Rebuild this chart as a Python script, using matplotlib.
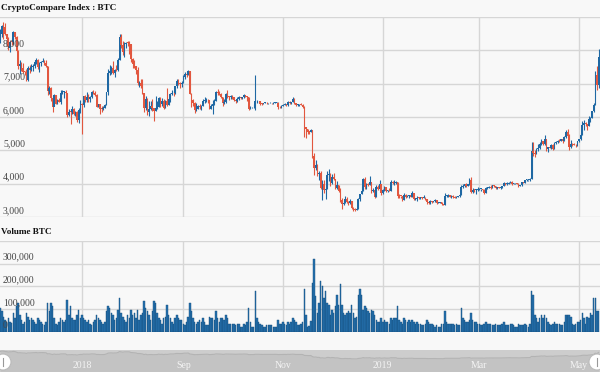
import numpy as np
import pandas as pd
import matplotlib
matplotlib.use("Agg")
import matplotlib.pyplot as plt
from matplotlib import transforms
from matplotlib.patches import Ellipse

# Daily BTC candles (first candle = 2018-05-12)
start_date = "2018-05-12"
first_open = 8450

close = [
    8500, 8720, 8690, 8480, 8350, 8060, 8250, 8240, 8540, 8410, 7990, 7520, 7590, 7470, 7360, 7350, 7110, 7470, 7400, 7500,
    7540, 7640, 7720, 7500, 7630, 7660, 7690, 7620, 7530, 6770, 6880, 6560, 6310, 6650, 6400, 6500, 6450, 6720, 6750, 6760, 6720, 6060, 6160, 6150, 6250, 6100, 6150, 5900, 6200, 6390,
    6360, 6620, 6520, 6600, 6530, 6600, 6760, 6710, 6660, 6310, 6390, 6250, 6240, 6270, 6360, 6740, 7320, 7380, 7470, 7330, 7410, 7400, 7720, 8400, 8170, 7940, 8190, 8230, 8210, 8180, 7730,
    7600, 7540, 7420, 7010, 7030, 6940, 6720, 6280, 6540, 6150, 6240, 6320, 6260, 6190, 6270, 6310, 6580, 6390, 6490, 6270, 6480, 6370, 6530, 6700, 6720, 6710, 6920, 7080, 7030, 6990, 7030,
    7200, 7300, 7270, 7370, 6700, 6520, 6410, 6200, 6250, 6330, 6300, 6330, 6490, 6490, 6520, 6500, 6250, 6340, 6390, 6490, 6760, 6720, 6700, 6590, 6430, 6460, 6680, 6630, 6600, 6630,
    6590, 6500, 6480, 6550, 6590, 6560, 6590, 6660, 6640, 6590, 6250, 6290, 6290, 6290, 6470, 6480, 6470, 6400, 6390, 6420, 6420, 6410, 6410, 6420, 6410, 6420, 6430, 6430, 6300, 6290, 6340,
    6370, 6390, 6350, 6460, 6410, 6450, 6550, 6420, 6350, 6380, 6390, 6370, 6310, 5690, 5640, 5560, 5550, 5610, 4830, 4480, 4560, 4290, 4330, 3880, 4000, 3800, 3840, 4260, 4280, 4020,
    4200, 4130, 3880, 3960, 3780, 3500, 3400, 3420, 3550, 3450, 3410, 3490, 3270, 3240, 3200, 3230, 3550, 3680, 3770, 4150, 3900, 4000, 3970, 4060, 3780, 3820, 3610, 3900, 3830, 3990, 3710,
    3810, 3900, 3780, 3810, 3790, 4060, 4010, 4010, 4040, 3640, 3630, 3620, 3510, 3670, 3590, 3620, 3660, 3610, 3710, 3540, 3540, 3580, 3560, 3590, 3580, 3580, 3540, 3440, 3410, 3470, 3450,
    3470, 3510, 3420, 3430, 3440, 3390, 3370, 3640, 3640, 3670, 3610, 3620, 3600, 3580, 3590, 3620, 3660, 3900, 3920, 3980, 3940, 3990, 4120, 3740, 3820, 3800, 3810, 3820,
    3830, 3830, 3810, 3720, 3870, 3880, 3890, 3870, 3950, 3930, 3870, 3890, 3870, 3880, 3920, 4020, 3990, 3990, 4030, 4060, 3990, 4010, 4020, 4000, 3930, 3950, 4050, 4030, 4110, 4110, 4110,
    4150, 4980, 4930, 4900, 5030, 5060, 5200, 5280, 5190, 5330, 5030, 5090, 5080, 5160, 5040, 5220, 5240, 5290, 5280, 5330, 5290, 5390, 5560, 5420, 5100, 5200, 5180, 5170, 5150, 5270,
    5330, 5470, 5760, 5830, 5800, 5730, 5940, 5980, 6170, 6360, 7250, 6970, 7810,
]

high = [
    8640, 8750, 8850, 8820, 8490, 8400, 8270, 8380, 8580, 8560, 8420, 8020, 7720, 7650, 7610, 7390, 7450, 7530, 7560, 7600,
    7600, 7700, 7760, 7750, 7660, 7690, 7760, 7700, 7700, 7540, 6920, 6900, 6620, 6690, 6660, 6550, 6560, 6800, 6820, 6790, 6800, 6730, 6240, 6230, 6330, 6280, 6180, 6170, 6270, 6510,
    6430, 6640, 6670, 6750, 6690, 6630, 6780, 6800, 6780, 6680, 6400, 6390, 6340, 6320, 6400, 6760, 7450, 7560, 7540, 7690, 7430, 7560, 7760, 8480, 8480, 8290, 8260, 8240, 8290, 8270, 8180,
    7760, 7720, 7540, 7500, 7080, 7150, 7150, 6730, 6620, 6560, 6480, 6470, 6550, 6260, 6620, 6480, 6600, 6600, 6560, 6530, 6500, 6880, 6560, 6720, 6800, 6780, 6940, 7130, 7140, 7060, 7080,
    7260, 7340, 7340, 7400, 7390, 6710, 6530, 6460, 6420, 6360, 6400, 6350, 6540, 6600, 6560, 6530, 6520, 6400, 6520, 6530, 6780, 6830, 6780, 6720, 6590, 6550, 6710, 6800, 6630, 6670,
    6650, 6600, 6510, 6600, 6620, 6600, 6610, 6700, 6670, 6640, 6600, 6330, 6310, 6400, 7250, 6520, 6490, 6490, 6420, 6430, 6460, 6440, 6420, 6460, 6420, 6440, 6440, 6450, 6440, 6320, 6350,
    6380, 6410, 6400, 6490, 6470, 6460, 6590, 6560, 6430, 6390, 6400, 6410, 6380, 6320, 5710, 5650, 5570, 5650, 5620, 4920, 4720, 4580, 4390, 4380, 4110, 4120, 3860, 4370, 4440, 4320,
    4300, 4310, 4140, 4070, 3970, 3880, 3570, 3480, 3620, 3600, 3470, 3530, 3490, 3290, 3260, 3270, 3580, 3690, 3930, 4180, 4200, 4010, 4030, 4240, 4060, 3870, 3840, 3950, 3960, 4100, 3990,
    3840, 3920, 3900, 3820, 3870, 4100, 4080, 4110, 4070, 4050, 3680, 3640, 3620, 3710, 3690, 3670, 3670, 3670, 3780, 3720, 3570, 3620, 3610, 3610, 3590, 3670, 3590, 3540, 3440, 3500, 3490,
    3490, 3530, 3520, 3450, 3460, 3450, 3400, 3730, 3660, 3680, 3670, 3650, 3650, 3620, 3630, 3640, 3700, 3950, 4000, 3990, 4010, 4000, 4160, 4200, 3860, 3830, 3830, 3890,
    3860, 3840, 3840, 3830, 3890, 3900, 3920, 3950, 3970, 3950, 3940, 3900, 3890, 3920, 3940, 4060, 4020, 4050, 4040, 4080, 4080, 4020, 4030, 4030, 4010, 3960, 4060, 4060, 4120, 4140, 4120,
    4170, 5250, 5250, 5010, 5060, 5200, 5250, 5350, 5280, 5460, 5340, 5110, 5120, 5180, 5190, 5240, 5280, 5320, 5350, 5350, 5340, 5440, 5620, 5640, 5480, 5300, 5220, 5210, 5190, 5290,
    5350, 5510, 5880, 5900, 5850, 5800, 6040, 6000, 6190, 6420, 7380, 7540, 8050,
]

low = [
    8230, 8400, 8350, 8460, 8130, 8010, 7950, 8150, 8190, 8340, 7950, 7450, 7300, 7380, 7330, 7270, 7090, 7080, 7310, 7370,
    7380, 7480, 7600, 7450, 7360, 7530, 7640, 7560, 7500, 6650, 6700, 6470, 6140, 6320, 6390, 6380, 6440, 6400, 6700, 6580, 6700, 6000, 6040, 5780, 6080, 6070, 6030, 5850, 5830, 6130,
    5500, 6300, 6460, 6460, 6450, 6450, 6560, 6700, 6620, 6290, 6300, 6080, 6150, 6210, 6260, 6350, 6670, 7260, 7290, 7300, 7210, 7370, 7390, 7700, 8070, 7860, 7800, 8080, 8130, 7880, 7640,
    7480, 7470, 7300, 6960, 6900, 6860, 6690, 6140, 6220, 6050, 6030, 6200, 6170, 5880, 6190, 6240, 6300, 6300, 6340, 6250, 6270, 6320, 6350, 6460, 6660, 6620, 6690, 6860, 6960, 6880, 6910,
    7020, 7140, 7210, 7250, 6690, 6290, 6340, 6130, 6180, 6240, 6250, 6200, 6320, 6410, 6460, 6420, 6230, 6240, 6100, 6370, 6490, 6660, 6660, 6560, 6340, 6380, 6430, 6580, 6520, 6550,
    6550, 6480, 6420, 6460, 6520, 6540, 6530, 6580, 6610, 6470, 6200, 6230, 6270, 6270, 6220, 6430, 6430, 6370, 6370, 6380, 6410, 6390, 6380, 6410, 6390, 6390, 6410, 6420, 6240, 6270, 6280,
    6320, 6360, 6330, 6340, 6390, 6380, 6440, 6400, 6320, 6340, 6330, 6350, 6270, 5390, 5380, 5500, 5500, 5540, 4770, 4260, 4420, 4240, 4110, 3840, 3520, 3720, 3550, 3830, 4080, 3920,
    3980, 4100, 3830, 3840, 3760, 3450, 3250, 3360, 3410, 3420, 3370, 3390, 3250, 3190, 3180, 3200, 3230, 3480, 3690, 3770, 3850, 3830, 3930, 3970, 3720, 3740, 3580, 3590, 3820, 3820, 3660,
    3680, 3780, 3750, 3740, 3780, 3770, 3980, 3970, 3990, 3580, 3570, 3570, 3480, 3500, 3580, 3590, 3580, 3590, 3610, 3500, 3510, 3480, 3540, 3550, 3540, 3560, 3500, 3400, 3380, 3400, 3430,
    3440, 3460, 3400, 3410, 3420, 3360, 3360, 3360, 3610, 3610, 3600, 3580, 3580, 3560, 3570, 3590, 3600, 3650, 3880, 3890, 3900, 3930, 3960, 3720, 3730, 3760, 3690, 3780,
    3810, 3790, 3780, 3690, 3710, 3840, 3860, 3840, 3870, 3890, 3840, 3840, 3860, 3830, 3880, 3920, 3960, 3960, 3980, 4010, 3960, 3980, 4000, 3990, 3890, 3920, 3940, 4010, 4020, 4080, 4090,
    4090, 4140, 4820, 4790, 4900, 4980, 5050, 5170, 5160, 5170, 4990, 4960, 5060, 5050, 5000, 5030, 5200, 5230, 5240, 5270, 5230, 5270, 5380, 5400, 5000, 5060, 5140, 5150, 5110, 5140,
    5260, 5320, 5460, 5600, 5720, 5620, 5730, 5840, 5980, 6140, 6360, 6800, 6880,
]

# volume in thousands of BTC
volume_k = [
    104, 90, 67, 52, 45, 60, 45, 38, 82, 62, 112, 127, 75, 52, 37, 45, 82, 67, 52, 60,
    52, 45, 37, 60, 52, 45, 37, 30, 45, 127, 90, 127, 112, 60, 37, 30, 45, 60, 52, 45, 52, 142, 75, 112, 60, 52, 52, 75, 97, 60,
    75, 60, 52, 45, 52, 37, 30, 45, 52, 75, 60, 52, 45, 37, 45, 90, 112, 104, 82, 75, 52, 60, 97, 150, 82, 67, 52, 45, 75, 60, 97,
    75, 82, 60, 97, 52, 75, 82, 134, 104, 90, 75, 52, 90, 134, 127, 82, 60, 52, 37, 60, 67, 120, 75, 60, 45, 37, 60, 75, 60, 52, 52,
    37, 30, 45, 67, 127, 90, 60, 45, 37, 45, 52, 45, 60, 45, 30, 30, 67, 60, 60, 52, 90, 60, 45, 60, 60, 52, 75, 60, 37, 37,
    37, 37, 30, 37, 37, 22, 22, 37, 30, 45, 107, 45, 22, 22, 180, 60, 45, 37, 30, 22, 22, 30, 30, 30, 30, 22, 22, 22, 52, 37, 37,
    45, 37, 30, 45, 37, 45, 60, 52, 45, 30, 30, 37, 45, 187, 75, 24, 25, 50, 216, 320, 157, 83, 127, 224, 201, 150, 179, 127, 120, 75,
    98, 83, 113, 164, 120, 209, 120, 83, 75, 83, 90, 83, 120, 83, 60, 67, 164, 187, 164, 98, 113, 105, 90, 83, 98, 90, 75, 53, 45, 45, 60,
    45, 53, 45, 45, 37, 60, 53, 60, 60, 113, 53, 45, 37, 60, 53, 45, 53, 45, 53, 45, 37, 45, 37, 37, 30, 30, 37, 53, 45, 37, 37,
    30, 24, 30, 24, 24, 37, 37, 90, 45, 37, 37, 37, 37, 30, 37, 30, 30, 104, 60, 52, 45, 45, 52, 82, 52, 45, 45, 37,
    37, 30, 30, 37, 45, 37, 37, 37, 30, 30, 37, 30, 30, 30, 37, 45, 30, 30, 30, 37, 37, 30, 22, 22, 37, 30, 30, 30, 37, 30, 22,
    37, 179, 164, 75, 60, 45, 60, 75, 60, 75, 60, 45, 37, 30, 37, 45, 37, 37, 37, 30, 30, 45, 75, 75, 75, 67, 37, 30, 37, 45,
    45, 52, 82, 60, 37, 67, 60, 82, 75, 150, 150, 90, 90,
]

tick_dates = ["2018-07-01", "2018-09-01", "2018-11-01", "2019-01-01", "2019-03-01", "2019-05-01"]
tick_labels = ["2018", "Sep", "Nov", "2019", "Mar", "May"]
price_ticks = [3000, 4000, 5000, 6000, 7000, 8000, 9000]
volume_ticks = [0, 100000, 200000, 300000, 400000]

assert len(close) == len(high) == len(low) == len(volume_k), (len(close), len(high), len(low), len(volume_k))

# colours
BG = "#f8f8f8"
GRID = "#d6d6d6"
UP = "#1f68a3"
DOWN = "#e2573f"
TXT = "#444444"
FONT = "Liberation Serif"

c = np.array(close, dtype=float)
h = np.array(high, dtype=float)
l = np.array(low, dtype=float)
o = np.r_[first_open, c[:-1]]
v = np.array(volume_k, dtype=float) * 1000
x = np.arange(len(c))
t0 = pd.Timestamp(start_date)
tick_x = [(pd.Timestamp(d) - t0).days for d in tick_dates]

W, H = 600, 372
fig = plt.figure(figsize=(W / 100, H / 100), dpi=100, facecolor=BG)


def pane(top, bottom):
    ax = fig.add_axes([0, 1 - bottom / H, 1, (bottom - top) / H])
    ax.set_facecolor(BG)
    for s in ax.spines.values():
        s.set_visible(False)
    ax.set_xticks([])
    ax.set_yticks([])
    ax.set_xlim(-0.12, 366.85)
    return ax


ax_p = pane(17, 217)
ax_v = pane(240.7, 332)
ax_n = pane(350, 372)

# price candles
ax_p.set_ylim(3000, 9000)
for ax in (ax_p, ax_v):
    for tx in tick_x:
        ax.axvline(tx, color=GRID, lw=1, zorder=0)
for yv in price_ticks:
    ax_p.axhline(yv, color=GRID, lw=1, zorder=0)
cols = np.where(c >= o, UP, DOWN)
ax_p.vlines(x, l, h, colors=cols, lw=0.8, zorder=2)
body = np.maximum(np.abs(c - o), 25)
ax_p.bar(x, body, bottom=np.minimum(o, c), width=0.95, color=cols, lw=0, zorder=3)

lab_tr = transforms.offset_copy(ax_p.get_yaxis_transform(), fig=fig, y=2, units="dots")
for yv in price_ticks[:-1]:
    ax_p.text(3 / W, yv, f"{yv:,}", transform=lab_tr, fontsize=7, color=TXT,
              family=FONT, va="bottom", ha="left", zorder=5)

# volume bars
ax_v.set_ylim(0, 400000)
for yv in volume_ticks:
    ax_v.axhline(yv, color=GRID, lw=1, zorder=0)
ax_v.bar(x, v, width=0.9, color="#2470ad", edgecolor="#174f7d", lw=0.3, zorder=3)
vlab_tr = transforms.offset_copy(ax_v.get_yaxis_transform(), fig=fig, y=2, units="dots")
for yv in volume_ticks[:-1]:
    ax_v.text(3 / W, yv, f"{yv:,}", transform=vlab_tr, fontsize=7, color=TXT,
              family=FONT, va="bottom", ha="left", zorder=5)

# pane titles
fig.text(1 / W, 1 - 8.5 / H, "CryptoCompare Index : BTC", fontsize=6.6, weight="bold",
         family=FONT, color="#111111", va="center", ha="left")
fig.text(1 / W, 1 - 232.5 / H, "Volume BTC", fontsize=6.6, weight="bold",
         family=FONT, color="#111111", va="center", ha="left")

# navigator strip
ax_n.set_facecolor("#cdcdcd")
ax_n.set_ylim(-6000, 9500)
ax_n.fill_between(x, c, -6000, color="#c3c3c3", lw=0, zorder=1)
ax_n.plot(x, c, color="#b3b3b3", lw=0.8, zorder=2)
for tx, lab in zip(tick_x, tick_labels):
    ax_n.text(tx, 0.3, lab, transform=ax_n.get_xaxis_transform(), fontsize=7,
              family=FONT, color="#f4f4f4", ha="center", va="center", zorder=4)

for hx in (3, 597):
    fig.patches.append(Ellipse((hx / W, 10 / H), 16 / W, 16 / H, transform=fig.transFigure,
                               facecolor="white", edgecolor="#bbbbbb", lw=0.8, zorder=10))
    fig.lines.append(plt.Line2D([hx / W, hx / W], [6 / H, 14 / H], transform=fig.transFigure,
                                color="#999999", lw=0.8, zorder=11))

fig.savefig("out.png", dpi=100, facecolor=BG)
